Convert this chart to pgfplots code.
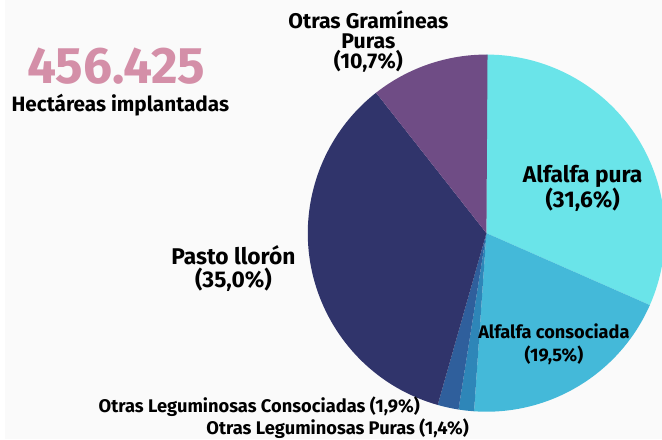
\documentclass[border=0pt]{standalone}
\usepackage{pgfplots}
\pgfplotsset{compat=1.18}
\usepackage{pgfplotstable}
\usepackage{fontspec}
\setmainfont{Fira Sans}

\definecolor{bgc}{RGB}{250,250,250}
\definecolor{c0}{RGB}{106,228,233}
\definecolor{c1}{RGB}{68,185,217}
\definecolor{c2}{RGB}{46,134,184}
\definecolor{c3}{RGB}{47,95,156}
\definecolor{c4}{RGB}{48,52,107}
\definecolor{c5}{RGB}{111,76,133}
\definecolor{pinkt}{RGB}{212,143,168}

\begin{document}
% shares in percent, clockwise from the top
\pgfplotstableread{
pct
31.6
19.5
1.4
1.9
35.0
10.7
}\piedata

\def\cum{90}
\pgfplotsforeachungrouped \i in {0,...,5}{%
  \pgfplotstablegetelem{\i}{pct}\of\piedata
  \pgfmathsetmacro\endang{\cum-3.6*\pgfplotsretval}%
  \expandafter\xdef\csname s\i\endcsname{\cum}%
  \expandafter\xdef\csname e\i\endcsname{\endang}%
  \global\let\cum\endang
}

\begin{tikzpicture}
\begin{axis}[width=662bp,height=443bp,scale only axis,
  xmin=0,xmax=662,ymin=0,ymax=443,axis lines=none,
  axis background/.style={fill=bgc}]
\pgfplotsinvokeforeach{0,...,5}{%
  \fill[c#1] (axis cs:485,208) -- ++(\csname s#1\endcsname:180bp)
    arc[start angle=\csname s#1\endcsname,end angle=\csname e#1\endcsname,radius=180bp] -- cycle;
}
\node[font=\bfseries\fontsize{23}{24}\selectfont,align=center] at (axis cs:582,253) {Alfalfa pura\\(31,6\%)};
\node[font=\bfseries\fontsize{18.4}{24}\selectfont,align=center] at (axis cs:553,96) {Alfalfa consociada\\(19,5\%)};
\node[font=\bfseries\fontsize{23}{23}\selectfont,align=center] at (axis cs:230,172) {Pasto llorón\\(35,0\%)};
\node[font=\bfseries\fontsize{21.5}{20.5}\selectfont,align=center] at (axis cs:366,401) {Otras Gramíneas\\Puras\\(10,7\%)};
\node[font=\bfseries\fontsize{18.5}{20}\selectfont,inner sep=0pt] at (axis cs:256,33) {Otras Leguminosas Consociadas (1,9\%)};
\node[font=\bfseries\fontsize{18.5}{20}\selectfont,inner sep=0pt] at (axis cs:335,11) {Otras Leguminosas Puras (1,4\%)};
\node[font=\bfseries\fontsize{52}{56}\selectfont,text=pinkt,inner sep=0pt] at (axis cs:112,376) {456.425};
\node[font=\bfseries\fontsize{21}{24}\selectfont,inner sep=0pt] at (axis cs:116,337) {Hectáreas implantadas};
\end{axis}
\end{tikzpicture}
\end{document}
